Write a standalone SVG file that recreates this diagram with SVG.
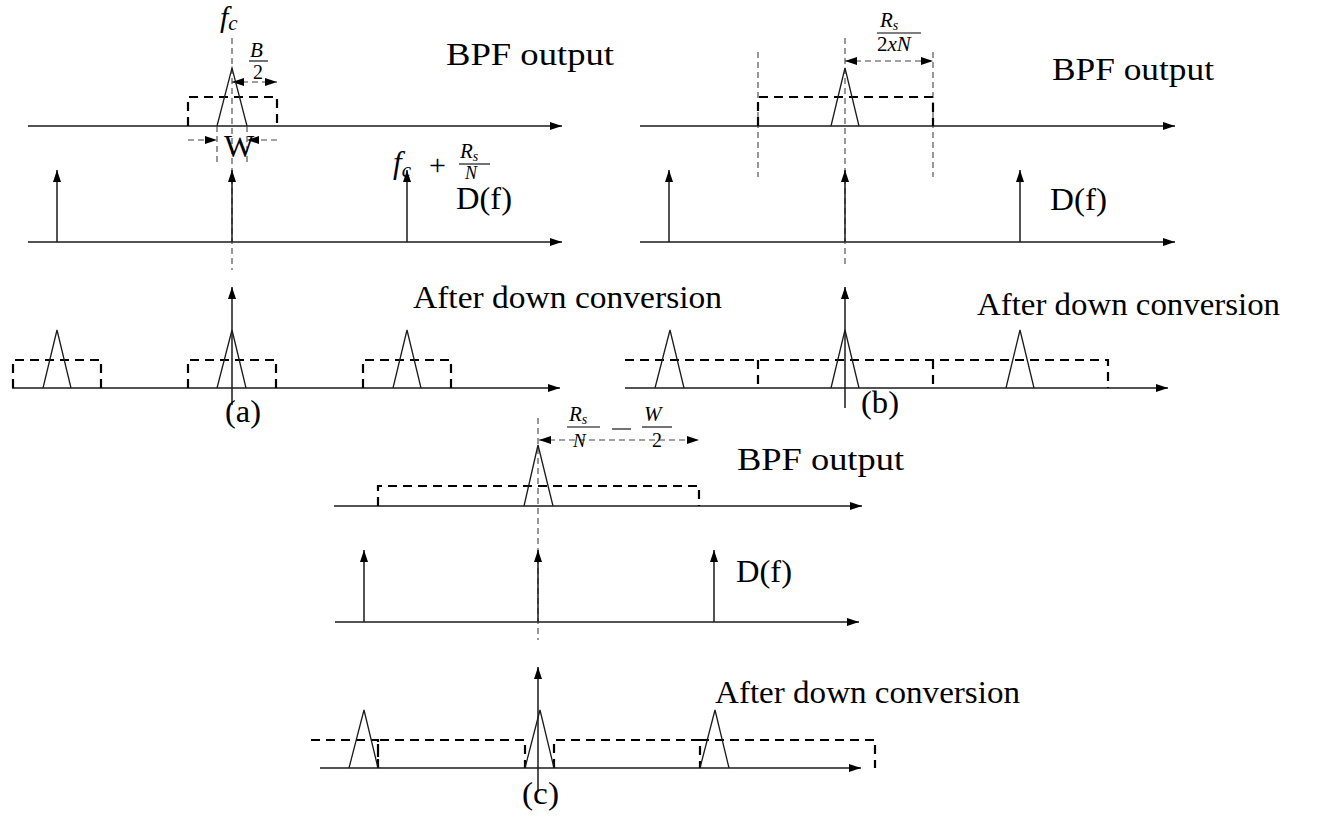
<svg xmlns="http://www.w3.org/2000/svg" width="1317" height="819" viewBox="0 0 1317 819">
<style>
.ax{stroke:#1a1a1a;stroke-width:1.5;fill:none}
.tri{stroke:#1a1a1a;stroke-width:1.3;fill:none}
.box{stroke:#000;stroke-width:2.2;stroke-dasharray:9 6;fill:none}
.dim{stroke:#444;stroke-width:1.1;stroke-dasharray:6 4;fill:none}
.fl{stroke:#000;stroke-width:1.1;fill:none}
.t{font-family:"Liberation Serif",serif;font-size:32px;fill:#000}
.m{font-family:"Liberation Serif",serif;font-style:italic;fill:#000}
.r{font-family:"Liberation Serif",serif;fill:#000}
</style>
<defs>
<marker id="ah" markerUnits="userSpaceOnUse" markerWidth="12" markerHeight="8" refX="12" refY="4" orient="auto-start-reverse">
<path d="M0,0 L12,4 L0,8 z" fill="#000"/>
</marker>
</defs>

<g id="connectors">
<!-- panel (a) -->
<line class="ax" x1="28" y1="126" x2="562" y2="126" marker-end="url(#ah)"/>
<line class="ax" x1="28" y1="242" x2="562" y2="242" marker-end="url(#ah)"/>
<line class="ax" x1="12" y1="388" x2="560" y2="388" marker-end="url(#ah)"/>
<line class="dim" x1="232" y1="38" x2="232" y2="270"/>
<line class="ax" x1="57" y1="242" x2="57" y2="170" marker-end="url(#ah)"/>
<line class="ax" x1="232" y1="242" x2="232" y2="170" marker-end="url(#ah)"/>
<line class="ax" x1="407" y1="242" x2="407" y2="170" marker-end="url(#ah)"/>
<line class="ax" x1="232" y1="405" x2="232" y2="287" marker-end="url(#ah)"/>
<line class="dim" x1="232" y1="82" x2="277" y2="82" marker-start="url(#ah)" marker-end="url(#ah)"/>
<line class="dim" x1="188" y1="140" x2="217" y2="140" marker-end="url(#ah)"/>
<line class="dim" x1="277" y1="140" x2="247" y2="140" marker-end="url(#ah)"/>
<line class="dim" x1="217" y1="126" x2="217" y2="162"/>
<line class="dim" x1="247" y1="126" x2="247" y2="162"/>
<!-- panel (b) -->
<line class="ax" x1="640" y1="126" x2="1175" y2="126" marker-end="url(#ah)"/>
<line class="ax" x1="640" y1="242" x2="1175" y2="242" marker-end="url(#ah)"/>
<line class="ax" x1="625" y1="388" x2="1168" y2="388" marker-end="url(#ah)"/>
<line class="dim" x1="845" y1="38" x2="845" y2="268"/>
<line class="dim" x1="758" y1="52" x2="758" y2="177"/>
<line class="dim" x1="933" y1="52" x2="933" y2="177"/>
<line class="ax" x1="669" y1="242" x2="669" y2="170" marker-end="url(#ah)"/>
<line class="ax" x1="845" y1="242" x2="845" y2="170" marker-end="url(#ah)"/>
<line class="ax" x1="1020" y1="242" x2="1020" y2="170" marker-end="url(#ah)"/>
<line class="ax" x1="845" y1="408" x2="845" y2="287" marker-end="url(#ah)"/>
<line class="dim" x1="845" y1="61" x2="933" y2="61" marker-start="url(#ah)" marker-end="url(#ah)"/>
<!-- panel (c) -->
<line class="ax" x1="334" y1="506" x2="862" y2="506" marker-end="url(#ah)"/>
<line class="ax" x1="335" y1="622" x2="859" y2="622" marker-end="url(#ah)"/>
<line class="ax" x1="320" y1="768" x2="861" y2="768" marker-end="url(#ah)"/>
<line class="dim" x1="538" y1="418" x2="538" y2="640"/>
<line class="ax" x1="364" y1="622" x2="364" y2="550" marker-end="url(#ah)"/>
<line class="ax" x1="538" y1="622" x2="538" y2="550" marker-end="url(#ah)"/>
<line class="ax" x1="714" y1="622" x2="714" y2="550" marker-end="url(#ah)"/>
<line class="ax" x1="538" y1="792" x2="538" y2="667" marker-end="url(#ah)"/>
<line class="dim" x1="539" y1="440" x2="699" y2="440" marker-start="url(#ah)" marker-end="url(#ah)"/>
</g>

<g id="panel-a">
<path class="box" d="M188,126 V97 H277 V126"/>
<path class="tri" d="M217,126 L232,68 L247,126"/>
<path class="box" d="M13,388 V360 H101 V388"/>
<path class="box" d="M188,388 V360 H276 V388"/>
<path class="box" d="M363,388 V360 H451 V388"/>
<path class="tri" d="M43,388 L57,330 L71,388"/>
<path class="tri" d="M217,388 L232,330 L246,388"/>
<path class="tri" d="M393,388 L407,330 L421,388"/>
<text class="m" x="220" y="27" font-size="30">f<tspan font-size="21" dy="3">c</tspan></text>
<text class="m" x="250" y="57" font-size="21">B</text>
<line class="fl" x1="249" y1="61" x2="268" y2="61"/>
<text class="r" x="253" y="79" font-size="20">2</text>
<text class="r" x="224" y="157" font-size="32">W</text>
<text class="m" x="393" y="173" font-size="31">f<tspan font-size="21" dy="4">c</tspan></text>
<text class="r" x="429" y="175" font-size="30">+</text>
<text class="m" x="460" y="158" font-size="21">R<tspan font-size="14" dy="3">s</tspan></text>
<line class="fl" x1="459" y1="164" x2="490" y2="164"/>
<text class="m" x="465" y="179" font-size="18">N</text>
<text class="t" x="446" y="65" textLength="168" lengthAdjust="spacingAndGlyphs">BPF output</text>
<text class="t" x="456" y="209" textLength="56" lengthAdjust="spacingAndGlyphs">D(f)</text>
<text class="t" x="413" y="308" textLength="309" lengthAdjust="spacingAndGlyphs">After down conversion</text>
<text class="t" x="225" y="422" textLength="36" lengthAdjust="spacingAndGlyphs">(a)</text>
</g>

<g id="panel-b">
<path class="box" d="M758,126 V97 H933 V126"/>
<path class="tri" d="M831,126 L845,68 L859,126"/>
<path class="box" d="M625,360 H1108 V388 M758,360 V388 M933,360 V388"/>
<path class="tri" d="M655,388 L670,330 L684,388"/>
<path class="tri" d="M831,388 L845,330 L859,388"/>
<path class="tri" d="M1006,388 L1020,330 L1034,388"/>
<text class="m" x="880" y="27" font-size="21">R<tspan font-size="14" dy="3">s</tspan></text>
<line class="fl" x1="877" y1="33" x2="921" y2="33"/>
<text class="r" x="877" y="51" font-size="21">2<tspan class="m">xN</tspan></text>
<text class="t" x="1052" y="80" textLength="162" lengthAdjust="spacingAndGlyphs">BPF output</text>
<text class="t" x="1050" y="210" textLength="57" lengthAdjust="spacingAndGlyphs">D(f)</text>
<text class="t" x="977" y="315" textLength="303" lengthAdjust="spacingAndGlyphs">After down conversion</text>
<text class="t" x="861" y="413" textLength="38" lengthAdjust="spacingAndGlyphs">(b)</text>
</g>

<g id="panel-c">
<path class="box" d="M378,506 V486 H699 V506"/>
<path class="tri" d="M524,506 L538,445 L553,506"/>
<path class="box" d="M311,740 H378 V768 M378,768 V740 H525 V768 M554,768 V740 H700 V768 M700,740 H875 V768"/>
<path class="tri" d="M349,768 L364,710 L378,768"/>
<path class="tri" d="M525,768 L540,710 L554,768"/>
<path class="tri" d="M700,768 L715,710 L729,768"/>
<text class="m" x="569" y="421" font-size="21">R<tspan font-size="14" dy="3">s</tspan></text>
<line class="fl" x1="567" y1="427" x2="600" y2="427"/>
<text class="m" x="573" y="447" font-size="19">N</text>
<line class="fl" x1="612" y1="429" x2="631" y2="429" stroke-width="1.6"/>
<text class="m" x="644" y="421" font-size="21">W</text>
<line class="fl" x1="642" y1="427" x2="672" y2="427"/>
<text class="r" x="652" y="447" font-size="20">2</text>
<text class="t" x="737" y="470" textLength="167" lengthAdjust="spacingAndGlyphs">BPF output</text>
<text class="t" x="736" y="582" textLength="56" lengthAdjust="spacingAndGlyphs">D(f)</text>
<text class="t" x="715" y="703" textLength="305" lengthAdjust="spacingAndGlyphs">After down conversion</text>
<text class="t" x="522" y="804" textLength="37" lengthAdjust="spacingAndGlyphs">(c)</text>
</g>
</svg>
